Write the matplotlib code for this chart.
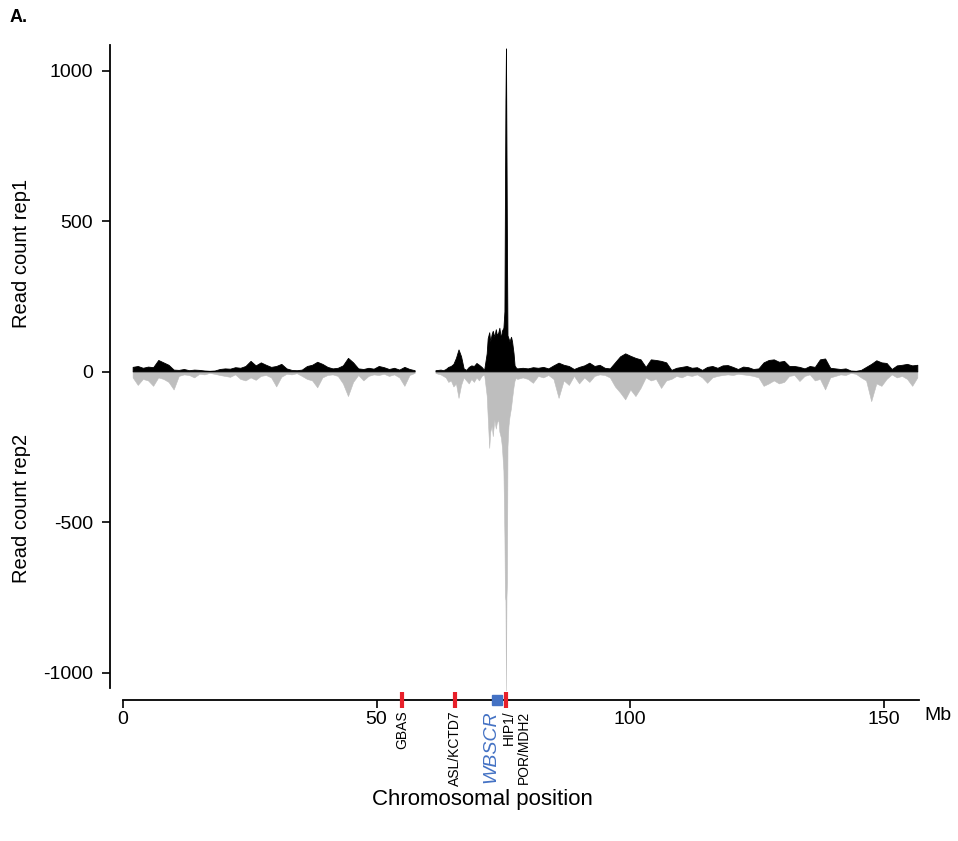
import numpy as np
import matplotlib.pyplot as plt

plt.rcParams['font.family'] = ['Liberation Sans', 'DejaVu Sans']

# read counts in ~1 Mb bins along the chromosome (positions in Mb)
# p-arm, up to the centromere gap
pos_p = np.linspace(2.0, 57.6, 56)
rep1_p = [15, 18, 12, 16, 14, 38, 30, 22, 6, 5,
          8, 4, 6, 5, 3, 2, 3, 8, 10, 9,
          14, 12, 18, 35, 20, 30, 22, 15, 18, 25,
          10, 5, 4, 6, 18, 22, 32, 25, 15, 10,
          12, 20, 45, 30, 10, 8, 12, 9, 18, 14,
          8, 12, 6, 15, 8, 4]
rep2_p = [20, 45, 25, 30, 48, 20, 25, 35, 60, 15,
          10, 12, 20, 8, 10, 5, 8, 12, 15, 18,
          10, 25, 30, 20, 28, 15, 12, 20, 50, 18,
          8, 10, 6, 15, 25, 30, 53, 20, 12, 10,
          15, 40, 82, 35, 12, 30, 15, 10, 12, 8,
          15, 10, 20, 48, 12, 5]

# after the gap, 0.5 Mb bins
pos_c = np.linspace(61.7, 71.3, 20)
rep1_c = [4, 5, 6, 4, 8, 15, 18, 25, 45, 73, 50, 10, 5, 15, 20, 18, 28, 22, 15, 5]
rep2_c = [5, 8, 10, 15, 20, 35, 30, 50, 40, 88, 45, 20, 30, 40, 25, 35, 20, 30, 15, 10]

# WBSCR region, finer bins round the peak
pos_pk = [71.8, 72.0, 72.3, 72.5, 72.8, 73.0, 73.3, 73.6, 73.8, 74.1,
          74.3, 74.6, 74.8, 75.1, 75.3, 75.4, 75.5, 75.6, 75.7, 75.8,
          75.9, 76.1, 76.3, 76.6, 76.8, 77.1, 77.3, 77.6, 77.8]
rep1_pk = [60, 110, 130, 100, 125, 135, 115, 140, 120, 130,
           145, 110, 135, 145, 200, 573, 900, 1073, 745, 400,
           120, 110, 100, 115, 100, 60, 20, 12, 10]
rep2_pk = [80, 150, 254, 200, 180, 215, 160, 190, 170, 160,
           200, 220, 250, 330, 550, 750, 760, 1060, 750, 700,
           250, 180, 150, 120, 90, 50, 30, 20, 25]

# q-arm
pos_q = np.linspace(78.9, 156.7, 78)
rep1_q = [12, 10, 14, 12, 15, 10, 20, 29, 22, 18,
          8, 15, 20, 29, 18, 22, 12, 10, 30, 50,
          60, 52, 45, 40, 15, 40, 38, 35, 30, 5,
          12, 15, 18, 12, 14, 5, 15, 18, 12, 20,
          21, 15, 8, 16, 14, 8, 10, 30, 38, 40,
          32, 35, 18, 18, 15, 10, 18, 15, 40, 43,
          12, 10, 8, 10, 3, 2, 5, 15, 25, 37,
          30, 28, 8, 20, 22, 25, 20, 22]
rep2_q = [20, 25, 38, 15, 20, 12, 25, 88, 30, 45,
          15, 40, 20, 35, 15, 10, 12, 20, 50, 70,
          93, 60, 82, 55, 20, 30, 25, 55, 30, 25,
          15, 20, 12, 15, 10, 20, 38, 20, 15, 12,
          10, 12, 8, 10, 12, 15, 20, 48, 40, 30,
          40, 35, 15, 12, 32, 15, 10, 30, 25, 60,
          20, 15, 10, 12, 5, 8, 20, 30, 99, 40,
          48, 25, 10, 20, 15, 25, 48, 20]

# genes marked on the axis
genes_red = [55.0, 65.5, 75.6]
wbscr_pos = 73.7
xticks = [0, 50, 100, 150]
yticks = [1000, 500, 0, -500, -1000]

# put the pieces together, NaN for the centromere gap
pos = np.concatenate([pos_p, [59.5], pos_c, pos_pk, pos_q])
rep1 = np.concatenate([rep1_p, [np.nan], rep1_c, rep1_pk, rep1_q])
rep2 = np.concatenate([rep2_p, [np.nan], rep2_c, rep2_pk, rep2_q])

fig = plt.figure(figsize=(9.58, 8.41), dpi=100)
ax = fig.add_axes([110 / 958, 1 - 700 / 841, 820 / 958, 655 / 841])

ax.fill_between(pos, 0, rep1, color='black', lw=0.6, zorder=3)
ax.fill_between(pos, 0, -rep2, color='#bebebe', lw=0.4, zorder=2)

ax.set_xlim(-2.56, 159.1)
ax.set_ylim(-1090, 1086)

for s in ['top', 'right']:
    ax.spines[s].set_visible(False)
ax.spines['left'].set_bounds(-1050, 1086)
ax.spines['bottom'].set_bounds(0, 157)
ax.spines['left'].set_linewidth(1.3)
ax.spines['bottom'].set_linewidth(1.3)

ax.set_xticks(xticks)
ax.set_yticks(yticks)
ax.set_yticklabels([str(v) for v in yticks])
ax.tick_params(axis='both', direction='out', length=6, width=1.2, labelsize=14)
ax.tick_params(axis='y', pad=6)
ax.tick_params(axis='x', pad=2)

# gene markers on the x axis
trans = ax.get_xaxis_transform()
ax.plot(genes_red, [0] * len(genes_red), ls='none', marker='|', ms=11, mew=3,
        color='#e8202a', transform=trans, clip_on=False, zorder=5)
ax.plot([wbscr_pos], [0], ls='none', marker='s', ms=7.5, color='#4472c4',
        transform=trans, clip_on=False, zorder=5)

ax.text(55.0, -0.016, 'GBAS', rotation=90, ha='center', va='top', fontsize=10, transform=trans)
ax.text(65.5, -0.016, 'ASL/KCTD7', rotation=90, ha='center', va='top', fontsize=10, transform=trans)
ax.text(72.6, -0.016, 'WBSCR', rotation=90, ha='center', va='top', fontsize=14,
        style='italic', color='#4472c4', transform=trans)
ax.text(77.5, -0.016, 'HIP1/\nPOR/MDH2', rotation=90, ha='center', va='top', fontsize=10,
        multialignment='right', linespacing=1.1, transform=trans)

fig.text(938 / 958, 1 - 716 / 841, 'Mb', ha='center', va='center', fontsize=14)
fig.text(22 / 958, 1 - 253 / 841, 'Read count rep1', rotation=90, ha='center', va='center', fontsize=14.5)
fig.text(22 / 958, 1 - 508 / 841, 'Read count rep2', rotation=90, ha='center', va='center', fontsize=14.5)
fig.text(482 / 958, 1 - 800 / 841, 'Chromosomal position', ha='center', va='center', fontsize=16)
fig.text(10 / 958, 1 - 17 / 841, 'A.', ha='left', va='center', fontsize=13, weight='bold')

plt.savefig('out.png', dpi=100)
